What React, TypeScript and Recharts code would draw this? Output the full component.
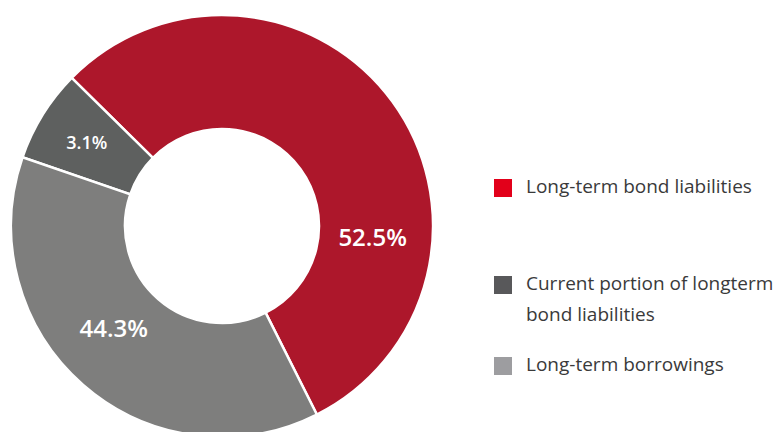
import React from "react";
import { PieChart, Pie, Cell, Legend } from "recharts";

const categories = [
  "Long-term bond liabilities",
  "Current portion of longterm bond liabilities",
  "Long-term borrowings",
];
// slice sizes as drawn in the picture (shares of the ring)
const sliceShares = [55.2, 7.1, 37.7];
// printed labels
const percentLabels = ["52.5%", "3.1%", "44.3%"];
const sliceColors = ["#AD172B", "#5E605F", "#7E7E7D"];
const legendColors = ["#E2001A", "#58585A", "#9D9DA0"];
const legendLines = [
  ["Long-term bond liabilities"],
  ["Current portion of longterm", "bond liabilities"],
  ["Long-term borrowings"],
];

const data = categories.map((name, i) => ({ name, value: sliceShares[i] }));

// label placement (angle offset from slice middle in degrees, radius)
const labelOffsets = [
  { dAngle: -40, r: 151, size: 24 },
  { dAngle: 0, r: 159, size: 18 },
  { dAngle: -5.8, r: 148, size: 24 },
];

const RAD = Math.PI / 180;

const renderLabel = (props: any) => {
  const { cx, cy, midAngle, index } = props;
  const o = labelOffsets[index];
  const a = (midAngle + o.dAngle) * RAD;
  const x = cx + o.r * Math.cos(a);
  const y = cy - o.r * Math.sin(a);
  return (
    <text
      x={x}
      y={y}
      fill="#ffffff"
      textAnchor="middle"
      dominantBaseline="central"
      fontFamily="'Open Sans', sans-serif"
      fontWeight={600}
      fontSize={o.size}
    >
      {percentLabels[index]}
    </text>
  );
};

const legendTops = [179, 276, 357];

const renderLegend = () => (
  <div style={{ position: "relative", width: 776, height: 432 }}>
    {categories.map((c, i) => (
      <div key={c} style={{ position: "absolute", left: 494, top: legendTops[i] }}>
        <div
          style={{
            position: "absolute",
            left: 0,
            top: 0,
            width: 18,
            height: 18,
            background: legendColors[i],
          }}
        />
        <div
          style={{
            position: "absolute",
            left: 32,
            top: -8,
            fontFamily: "'Open Sans', sans-serif",
            fontSize: 19,
            lineHeight: "31px",
            color: "#3a3a3a",
            whiteSpace: "nowrap",
          }}
        >
          {legendLines[i].map((l) => (
            <div key={l}>{l}</div>
          ))}
        </div>
      </div>
    ))}
  </div>
);

export default function App() {
  return (
    <div style={{ position: "absolute", left: 0, top: 0, width: 776, height: 432, background: "#fff" }}>
      <PieChart width={776} height={432} margin={{ top: 0, right: 0, bottom: 0, left: 0 }}>
        <Pie
          data={data}
          dataKey="value"
          nameKey="name"
          cx={222}
          cy={226}
          innerRadius={97}
          outerRadius={211}
          startAngle={-63.3}
          endAngle={296.7}
          stroke="#ffffff"
          strokeWidth={2.5}
          label={renderLabel}
          labelLine={false}
          isAnimationActive={false}
        >
          {data.map((d, i) => (
            <Cell key={d.name} fill={sliceColors[i]} />
          ))}
        </Pie>
        <Legend
          content={renderLegend}
          wrapperStyle={{ position: "absolute", left: 0, top: 0, width: 776, height: 432 }}
        />
      </PieChart>
    </div>
  );
}
